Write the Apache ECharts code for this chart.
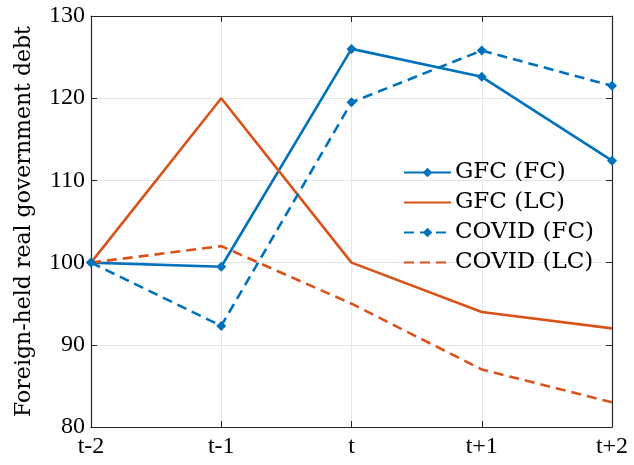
<!DOCTYPE html>
<html><head><meta charset="utf-8">
<script src="https://cdn.jsdelivr.net/npm/echarts@6/dist/echarts.min.js"></script>
<style>html,body{margin:0;padding:0;background:#fff}#c{width:634px;height:465px}</style>
</head><body><div id="c"></div>
<script>
const categories = ['t-2', 't-1', 't', 't+1', 't+2'];
const gfcFC = [100, 99.5, 126, 122.6, 112.4];
const gfcLC = [100, 120, 100, 94, 92];
const covidFC = [100, 92.3, 119.5, 125.8, 121.5];
const covidLC = [100, 102, 95, 87, 83];
const yTicks = { min: 80, max: 130, interval: 10 };

const blue = '#0072BD', orange = '#D95319';
const numFont = 'Liberation Serif';
const txtFont = 'DejaVu Serif';
const axisCol = '#262626';

const chart = echarts.init(document.getElementById('c'), null, { renderer: 'canvas' });
function mk(name, data, color, dashed, marker) {
  return {
    name, type: 'line', data,
    symbol: marker ? 'diamond' : 'none', symbolSize: 10, showSymbol: marker,
    lineStyle: { color, width: 2.6, type: dashed ? [10, 6] : 'solid' },
    itemStyle: { color },
    animation: false, z: 5
  };
}
chart.setOption({
  animation: false,
  grid: { left: 91, right: 22, top: 16, bottom: 38, containLabel: false },
  legend: {
    left: 398, top: 156, orient: 'vertical', itemWidth: 47, itemHeight: 12, itemGap: 7,
    textStyle: { fontFamily: txtFont, fontSize: 23, color: '#000', padding: [0,0,0,-1] },
    data: [
      { name: 'GFC (FC)' },
      { name: 'GFC (LC)', itemStyle: { opacity: 0 } },
      { name: 'COVID (FC)' },
      { name: 'COVID (LC)', itemStyle: { opacity: 0 } }
    ]
  },
  xAxis: [{
    type: 'category', data: categories, boundaryGap: false,
    axisLine: { lineStyle: { color: axisCol, width: 1.2 } },
    axisTick: { inside: true, length: 6, lineStyle: { color: axisCol } },
    axisLabel: { fontFamily: numFont, fontSize: 24, color: '#000', margin: 8 },
    splitLine: { show: true, lineStyle: { color: '#e6e6e6', width: 1 } }
  }, {
    type: 'category', data: categories, boundaryGap: false, position: 'top',
    axisLine: { lineStyle: { color: axisCol, width: 1.2 } },
    axisTick: { inside: true, length: 6, lineStyle: { color: axisCol } },
    axisLabel: { show: false }, splitLine: { show: false }
  }],
  yAxis: [{
    type: 'value', min: yTicks.min, max: yTicks.max, interval: yTicks.interval,
    name: 'Foreign-held real government debt', nameLocation: 'middle', nameGap: 56,
    nameTextStyle: { fontFamily: txtFont, fontSize: 22, color: '#000' },
    axisLine: { show: true, lineStyle: { color: axisCol, width: 1.2 } },
    axisTick: { show: true, inside: true, length: 6, lineStyle: { color: axisCol } },
    axisLabel: { fontFamily: numFont, fontSize: 24, color: '#000', margin: 6 },
    splitLine: { show: true, lineStyle: { color: '#e6e6e6', width: 1 } }
  }, {
    type: 'value', min: yTicks.min, max: yTicks.max, interval: yTicks.interval, position: 'right',
    axisLine: { show: true, lineStyle: { color: axisCol, width: 1.2 } },
    axisTick: { show: true, inside: true, length: 6, lineStyle: { color: axisCol } },
    axisLabel: { show: false }, splitLine: { show: false }
  }],
  series: [
    mk('GFC (FC)', gfcFC, blue, false, true),
    mk('GFC (LC)', gfcLC, orange, false, false),
    mk('COVID (FC)', covidFC, blue, true, true),
    mk('COVID (LC)', covidLC, orange, true, false)
  ]
});
</script></body></html>
